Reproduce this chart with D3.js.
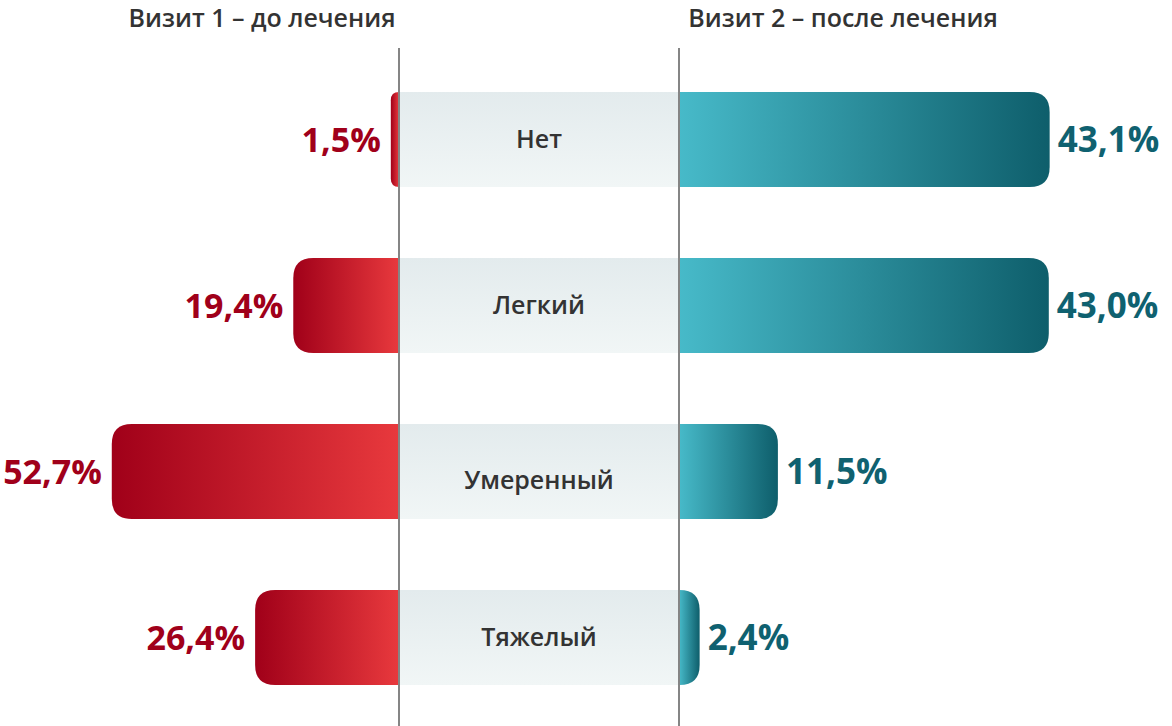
<!DOCTYPE html>
<html><head><meta charset="utf-8">
<script src="https://cdn.jsdelivr.net/npm/d3@7"></script>
<style>html,body{margin:0;padding:0;background:#fff;}svg{display:block;}</style>
</head><body>
<svg id="chart" width="1172" height="726"></svg>
<script>
const categories = ["Нет", "Легкий", "Умеренный", "Тяжелый"];
const visit1 = [1.5, 19.4, 52.7, 26.4];
const visit2 = [43.1, 43.0, 11.5, 2.4];
const titles = ["Визит 1 – до лечения", "Визит 2 – после лечения"];

const W = 1172, H = 726;
const cL = 399, cR = 679;
const svg = d3.select("#chart");
const defs = svg.append("defs");

const gRed = defs.append("linearGradient").attr("id","gRed").attr("x1","0").attr("x2","1").attr("y1","0").attr("y2","0");
gRed.append("stop").attr("offset","0%").attr("stop-color","#a00019");
gRed.append("stop").attr("offset","100%").attr("stop-color","#e8393d");
const gTeal = defs.append("linearGradient").attr("id","gTeal").attr("x1","0").attr("x2","1").attr("y1","0").attr("y2","0");
gTeal.append("stop").attr("offset","0%").attr("stop-color","#47bac9");
gTeal.append("stop").attr("offset","100%").attr("stop-color","#0e5e6b");
const gMid = defs.append("linearGradient").attr("id","gMid").attr("x1","0").attr("x2","0").attr("y1","0").attr("y2","1");
gMid.append("stop").attr("offset","0%").attr("stop-color","#e3ebed");
gMid.append("stop").attr("offset","100%").attr("stop-color","#f1f6f6");

const y = d3.scaleBand().domain(categories).range([92, 685]).paddingInner(0.4277).paddingOuter(0);
const xL = d3.scaleLinear().domain([0, 60]).range([0, 327]);
const xR = d3.scaleLinear().domain([0, 50]).range([0, 430]);
const bh = y.bandwidth();

function leftPath(x0, x1, y0, h){
  const w = x1 - x0, r = Math.min(20, w, h/2);
  return `M${x1},${y0} L${x0+r},${y0} Q${x0},${y0} ${x0},${y0+r} L${x0},${y0+h-r} Q${x0},${y0+h} ${x0+r},${y0+h} L${x1},${y0+h} Z`;
}
function rightPath(x0, x1, y0, h){
  const w = x1 - x0, r = Math.min(20, w, h/2);
  return `M${x0},${y0} L${x1-r},${y0} Q${x1},${y0} ${x1},${y0+r} L${x1},${y0+h-r} Q${x1},${y0+h} ${x1-r},${y0+h} L${x0},${y0+h} Z`;
}

svg.selectAll("rect.mid").data(categories).enter().append("rect")
  .attr("x", cL).attr("width", cR - cL).attr("y", d => y(d)).attr("height", bh)
  .attr("fill", "url(#gMid)");

svg.selectAll("path.l").data(categories).enter().append("path")
  .attr("d", (d,i) => leftPath(cL - xL(visit1[i]), cL, y(d), bh))
  .attr("fill", "url(#gRed)");
svg.selectAll("path.r").data(categories).enter().append("path")
  .attr("d", (d,i) => rightPath(cR, cR + xR(visit2[i]), y(d), bh))
  .attr("fill", "url(#gTeal)");

const fmt = v => d3.format(".1f")(v).replace(".", ",") + "%";
const font = "'Open Sans', 'Noto Sans', sans-serif";

svg.selectAll("text.vl").data(categories).enter().append("text")
  .attr("x", (d,i) => cL - xL(visit1[i]) - 10)
  .attr("y", d => y(d) + bh/2).attr("dy", "0.36em")
  .attr("text-anchor", "end").attr("font-family", font).attr("font-weight", 700)
  .attr("font-size", 34).attr("fill", "#a0001a")
  .text((d,i) => fmt(visit1[i]));
svg.selectAll("text.vr").data(categories).enter().append("text")
  .attr("x", (d,i) => cR + xR(visit2[i]) + 8)
  .attr("y", d => y(d) + bh/2).attr("dy", "0.36em")
  .attr("text-anchor", "start").attr("font-family", font).attr("font-weight", 700)
  .attr("font-size", 35).attr("fill", "#0f6170")
  .text((d,i) => fmt(visit2[i]));

svg.selectAll("text.cat").data(categories).enter().append("text")
  .attr("x", (cL + cR)/2)
  .attr("y", (d,i) => y(d) + bh/2 + (i === 2 ? 9 : 0)).attr("dy", "0.35em")
  .attr("text-anchor", "middle").attr("font-family", font).attr("font-weight", 600)
  .attr("font-size", 25).attr("fill", "#333")
  .text(d => d);

[cL, cR].forEach(x => svg.append("line").attr("x1", x).attr("x2", x).attr("y1", 48).attr("y2", H)
  .attr("stroke", "#858585").attr("stroke-width", 2));

svg.append("text").attr("x", 262).attr("y", 27).attr("text-anchor","middle")
  .attr("font-family", font).attr("font-weight", 600).attr("font-size", 25).attr("fill","#333").text(titles[0]);
svg.append("text").attr("x", 843).attr("y", 27).attr("text-anchor","middle")
  .attr("font-family", font).attr("font-weight", 600).attr("font-size", 25).attr("fill","#333").text(titles[1]);
</script>
</body></html>
